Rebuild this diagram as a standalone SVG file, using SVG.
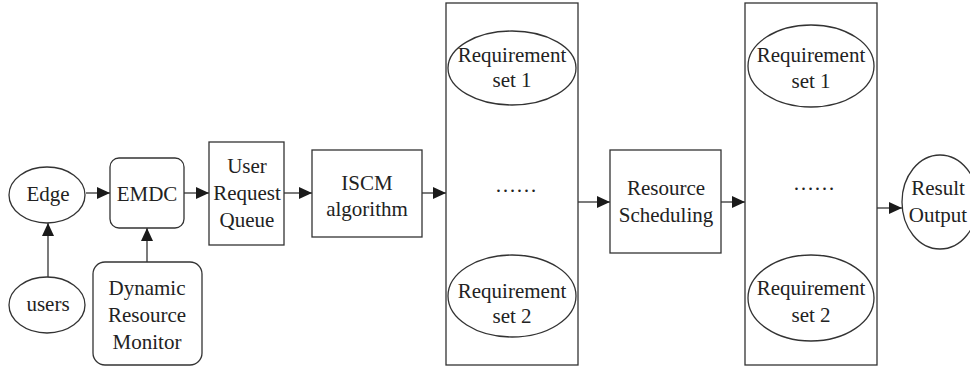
<svg xmlns="http://www.w3.org/2000/svg" width="970" height="370" viewBox="0 0 970 370">
  <style>
    .shape { fill: #ffffff; stroke: #333333; stroke-width: 1.3; }
    .link { fill: none; stroke: #333333; stroke-width: 1.3; marker-end: url(#arrow); }
    .label { font-family: "Liberation Serif", "Times New Roman", serif; font-size: 21px; fill: #222222; text-anchor: middle; }
  </style>
  <defs>
    <marker id="arrow" markerUnits="userSpaceOnUse" markerWidth="14" markerHeight="14" refX="13" refY="6" orient="auto">
      <path d="M0,0 L13,6 L0,12 Z" fill="#1a1a1a"/>
    </marker>
  </defs>
  <rect width="970" height="370" fill="#ffffff"/>

  <g id="connectors">
    <line class="link" x1="86" y1="193" x2="110" y2="193"/>
    <line class="link" x1="184" y1="193" x2="209" y2="193"/>
    <line class="link" x1="284" y1="193" x2="312" y2="193"/>
    <line class="link" x1="422" y1="193" x2="446" y2="193"/>
    <line class="link" x1="578" y1="202" x2="610" y2="202"/>
    <line class="link" x1="721" y1="202" x2="745" y2="202"/>
    <line class="link" x1="877" y1="208" x2="902" y2="208"/>
    <line class="link" x1="48" y1="277" x2="48" y2="223"/>
    <line class="link" x1="147" y1="262" x2="147" y2="228"/>
  </g>

  <g id="edge">
    <ellipse class="shape" cx="47" cy="195" rx="38" ry="28"/>
    <text class="label" x="48" y="201">Edge</text>
  </g>

  <g id="users">
    <ellipse class="shape" cx="47" cy="305" rx="38" ry="28"/>
    <text class="label" x="48" y="311">users</text>
  </g>

  <g id="emdc">
    <rect class="shape" x="110" y="158" width="74" height="70" rx="9"/>
    <text class="label" x="147" y="201">EMDC</text>
  </g>

  <g id="monitor">
    <rect class="shape" x="93" y="262" width="109" height="103" rx="12"/>
    <text class="label" x="147" y="295">Dynamic</text>
    <text class="label" x="147" y="322">Resource</text>
    <text class="label" x="147" y="349">Monitor</text>
  </g>

  <g id="queue">
    <rect class="shape" x="209" y="142" width="75" height="103"/>
    <text class="label" x="247" y="173">User</text>
    <text class="label" x="247" y="200">Request</text>
    <text class="label" x="247" y="227">Queue</text>
  </g>

  <g id="iscm">
    <rect class="shape" x="312" y="150" width="110" height="87"/>
    <text class="label" x="367" y="190">ISCM</text>
    <text class="label" x="367" y="216">algorithm</text>
  </g>

  <g id="requirements-a">
    <rect class="shape" x="446" y="3" width="132" height="362"/>
    <ellipse class="shape" cx="512" cy="68" rx="64" ry="37"/>
    <text class="label" x="512" y="62">Requirement</text>
    <text class="label" x="512" y="87">set 1</text>
    <text class="label" x="516" y="192">……</text>
    <ellipse class="shape" cx="512" cy="296" rx="64" ry="41"/>
    <text class="label" x="512" y="298">Requirement</text>
    <text class="label" x="512" y="323">set 2</text>
  </g>

  <g id="scheduling">
    <rect class="shape" x="610" y="150" width="111" height="103"/>
    <text class="label" x="666" y="195">Resource</text>
    <text class="label" x="666" y="222">Scheduling</text>
  </g>

  <g id="requirements-b">
    <rect class="shape" x="745" y="3" width="132" height="362"/>
    <ellipse class="shape" cx="811" cy="66" rx="63" ry="41"/>
    <text class="label" x="811" y="62">Requirement</text>
    <text class="label" x="811" y="88">set 1</text>
    <text class="label" x="814" y="190">……</text>
    <ellipse class="shape" cx="811" cy="298" rx="63" ry="43"/>
    <text class="label" x="811" y="295">Requirement</text>
    <text class="label" x="811" y="322">set 2</text>
  </g>

  <g id="result">
    <ellipse class="shape" cx="940" cy="202" rx="38" ry="47"/>
    <text class="label" x="938" y="195">Result</text>
    <text class="label" x="938" y="222">Output</text>
  </g>
</svg>
